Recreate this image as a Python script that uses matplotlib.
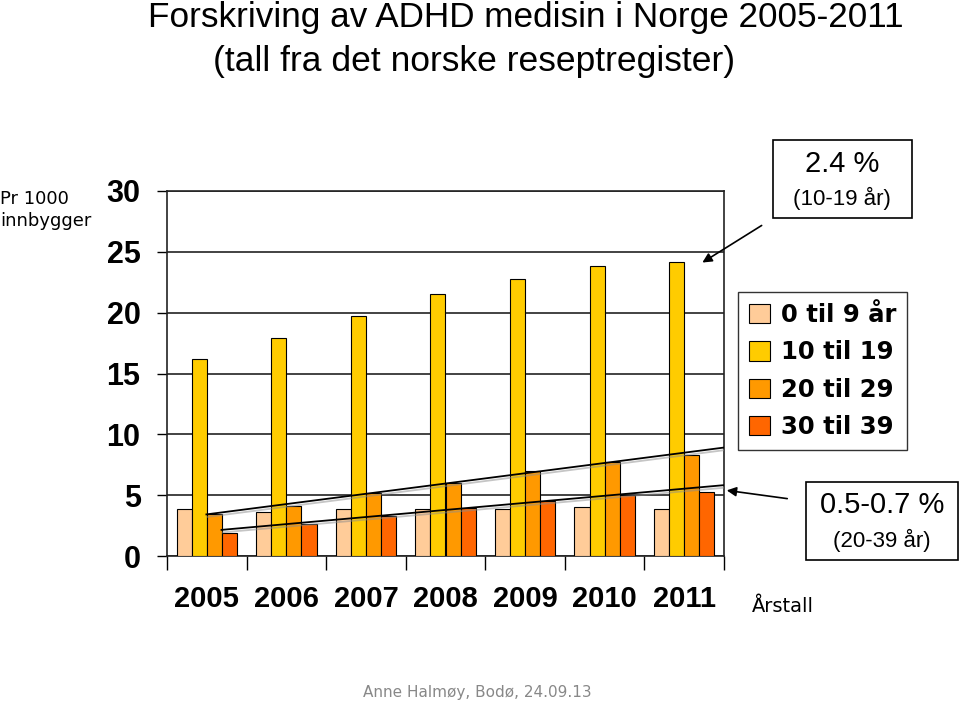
import numpy as np
import matplotlib
matplotlib.use("Agg")
import matplotlib.pyplot as plt
import matplotlib.patheffects as pe
from matplotlib.patches import Patch, Rectangle

years = ["2005", "2006", "2007", "2008", "2009", "2010", "2011"]
age_0_9 = [3.85, 3.65, 3.85, 3.9, 3.9, 4.0, 3.9]
age_10_19 = [16.2, 17.9, 19.7, 21.5, 22.8, 23.8, 24.2]
age_20_29 = [3.45, 4.1, 5.15, 6.0, 6.95, 7.75, 8.3]
age_30_39 = [1.85, 2.6, 3.3, 3.95, 4.5, 5.05, 5.25]
series_labels = ["0 til 9 år", "10 til 19", "20 til 29", "30 til 39"]
colors = ["#FFCC99", "#FFCC00", "#FF9900", "#FF6600"]

plt.rcParams['font.family'] = ['Liberation Sans', 'DejaVu Sans']

W, H = 960, 703
fig = plt.figure(figsize=(9.6, 7.03), dpi=100)
ax = fig.add_axes([167 / W, 1 - 556 / H, (724 - 167) / W, (556 - 191) / H])


def fx(px):
    return px / W


def fy(py):
    return 1 - py / H


x = np.arange(len(years))
w = 0.19
data = [age_0_9, age_10_19, age_20_29, age_30_39]
offsets = [-1.5, -0.5, 0.5, 1.5]
for vals, off, c in zip(data, offsets, colors):
    ax.bar(x + off * w, vals, w, color=c, edgecolor="black", linewidth=0.8, zorder=3)

# trend lines (linear fits)
shadow = [pe.SimpleLineShadow(offset=(0.8, -1.8), shadow_color="0.55", alpha=0.5), pe.Normal()]
for vals, off in [(age_20_29, 0.5), (age_30_39, 1.5)]:
    k, m = np.polyfit(x, vals, 1)
    xs = np.array([x[0] + off * w - 0.1, x[-1] + 0.5])
    ax.plot(xs, k * xs + m, color="black", lw=1.3, zorder=4, path_effects=shadow)

ax.set_xlim(-0.5, len(years) - 0.5)
ax.set_ylim(0, 30)
ax.set_yticks(range(0, 31, 5))
ax.set_yticklabels([str(v) for v in range(0, 31, 5)], fontsize=22, fontweight="bold")
ax.yaxis.grid(True, color="#222222", lw=1.2, zorder=0)
ax.set_axisbelow(True)
ax.set_xticks(np.arange(len(years) + 1) - 0.5)
ax.set_xticklabels([])
ax.tick_params(axis="y", direction="out", length=7, width=1, pad=12)
ax.tick_params(axis="x", direction="out", length=10, width=1)
for s in ax.spines.values():
    s.set_color("#222222")
    s.set_linewidth(1.2)
for xi, yr in zip(x, years):
    ax.text(xi, -3.5, yr, ha="center", va="center", fontsize=21, fontweight="bold",
            transform=ax.transData, clip_on=False)

# legend
handles = [Patch(facecolor=c, edgecolor="black", lw=0.8) for c in colors]
leg = fig.legend(handles, series_labels, loc="upper left", bbox_to_anchor=(fx(738), fy(292)),
                 prop={"size": 17.5, "weight": "bold", "family": "DejaVu Sans"}, frameon=True,
                 fancybox=False, edgecolor="black", handlelength=0.85, handleheight=0.85,
                 handletextpad=0.45, labelspacing=0.55, borderpad=0.45, borderaxespad=0)
leg.get_frame().set_linewidth(1.0)

# titles
fig.text(fx(148), fy(27), "Forskriving av ADHD medisin i Norge 2005-2011", ha="left",
         va="baseline", fontsize=25.3)
fig.text(fx(213), fy(71), "(tall fra det norske reseptregister)", ha="left", va="baseline",
         fontsize=25.5)

fig.text(0.0, fy(210), "Pr 1000\ninnbygger", ha="left", va="center", fontsize=13,
         family=["DejaVu Sans"], linespacing=1.3)
fig.text(fx(752), fy(607), "Årstall", ha="left", va="center", fontsize=14, family=["DejaVu Sans"])
fig.text(fx(477), fy(692), "Anne Halmøy, Bodø, 24.09.13", ha="center", va="center", fontsize=11,
         color="#888888", family=["DejaVu Sans"])

# annotation boxes
fig.add_artist(Rectangle((fx(773), fy(218)), fx(912) - fx(773), fy(140) - fy(218),
                         transform=fig.transFigure, facecolor="white", edgecolor="black", lw=1.2))
fig.text(fx(842), fy(164), "2.4 %", ha="center", va="center", fontsize=21)
fig.text(fx(842), fy(198), "(10-19 år)", ha="center", va="center", fontsize=16)
ax.annotate("", xy=(700, H - 264), xycoords="figure pixels", xytext=(764, H - 224),
            textcoords="figure pixels",
            arrowprops=dict(arrowstyle="-|>", color="black", lw=1.2, mutation_scale=14))

fig.add_artist(Rectangle((fx(806), fy(560)), fx(958) - fx(806), fy(482) - fy(560),
                         transform=fig.transFigure, facecolor="white", edgecolor="black", lw=1.2))
fig.text(fx(882), fy(505), "0.5-0.7 %", ha="center", va="center", fontsize=21)
fig.text(fx(882), fy(540), "(20-39 år)", ha="center", va="center", fontsize=16)
ax.annotate("", xy=(724, H - 490), xycoords="figure pixels", xytext=(790, H - 499),
            textcoords="figure pixels",
            arrowprops=dict(arrowstyle="-|>", color="black", lw=1.2, mutation_scale=14))

fig.savefig("out.png", dpi=100)
